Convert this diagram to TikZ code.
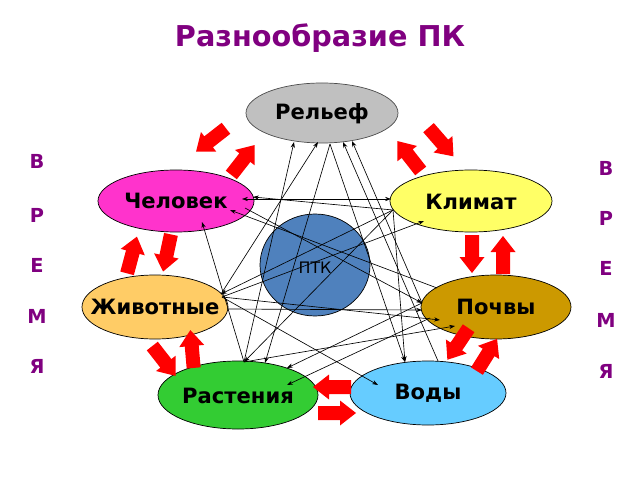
\documentclass[tikz,border=0pt]{standalone}
\usepackage{fontspec}
\setmainfont{DejaVu Sans}
\usetikzlibrary{shapes.geometric,arrows.meta}
\definecolor{ttl}{HTML}{800080}
\definecolor{arrred}{HTML}{FF0000}
\definecolor{crel}{HTML}{C0C0C0}
\definecolor{cchel}{HTML}{FF33CC}
\definecolor{cklim}{HTML}{FFFF66}
\definecolor{cptk}{HTML}{4F81BD}
\definecolor{cziv}{HTML}{FFCC66}
\definecolor{cpoch}{HTML}{CC9900}
\definecolor{crast}{HTML}{33CC33}
\definecolor{cvod}{HTML}{66CCFF}
\begin{document}
\begin{tikzpicture}[x=0.03cm,y=-0.03cm,
  comp/.style={ellipse,draw=black,line width=0.6pt,inner sep=0pt},
  lbl/.style={font=\fontsize{18}{21}\selectfont\bfseries},
  link/.style={line width=0.55pt,-{Stealth[length=5pt,width=3.6pt]}},
  letter/.style={text=ttl,font=\fontsize{16.5}{19}\selectfont\bfseries},
  blockarr/.pic={\fill[arrred] (-19,-7)--(3,-7)--(3,-12.5)--(19,0)--(3,12.5)--(3,7)--(-19,7)--cycle;}
]
\useasboundingbox (0,0) rectangle (640,480);
\fill[white] (0,0) rectangle (640,480);

% title
\node[text=ttl,font=\fontsize{24.5}{28}\selectfont\bfseries] (title) at (320,38) {Разнообразие ПК};

% side letters
\node[letter] (l1) at (37,161) {В};
\node[letter] (l2) at (37,215) {Р};
\node[letter] (l3) at (37,265) {Е};
\node[letter] (l4) at (37,316) {М};
\node[letter] (l5) at (37,366) {Я};
\node[letter] (r1) at (606,168) {В};
\node[letter] (r2) at (606,218) {Р};
\node[letter] (r3) at (606,268) {Е};
\node[letter] (r4) at (606,320) {М};
\node[letter] (r5) at (606,371) {Я};

% components
\node[comp,fill=crel,draw=black!70,minimum width=4.56cm,minimum height=1.8cm,
  label={[lbl,yshift=-1pt]center:Рельеф}] (rel) at (322,113) {};
\node[comp,fill=cchel,minimum width=4.68cm,minimum height=1.86cm,
  label={[lbl]center:Человек}] (chel) at (176,201) {};
\node[comp,fill=cklim,minimum width=4.86cm,minimum height=1.86cm,
  label={[lbl,yshift=-1pt]center:Климат}] (klim) at (471,201) {};
\node[comp,fill=cptk,minimum width=3.3cm,minimum height=3.06cm,
  label={[font=\fontsize{13.5}{15}\selectfont,yshift=-2pt]center:ПТК}] (ptk) at (315,265) {};
\node[comp,fill=cziv,minimum width=4.38cm,minimum height=1.92cm,
  label={[lbl]center:Животные}] (ziv) at (155,307) {};
\node[comp,fill=cpoch,minimum width=4.5cm,minimum height=1.92cm,
  label={[lbl]center:Почвы}] (poch) at (496,307) {};
\node[comp,fill=crast,minimum width=4.8cm,minimum height=2.04cm,
  label={[lbl,yshift=-1pt]center:Растения}] (rast) at (238,395) {};
\node[comp,fill=cvod,minimum width=4.68cm,minimum height=1.92cm,
  label={[lbl]center:Воды}] (vod) at (428,393) {};

% red block arrows
\pic[rotate=218] at (211,140) {blockarr};
\pic[rotate=52] at (243,160) {blockarr};
\pic[rotate=128] at (409,156) {blockarr};
\pic[rotate=-49] at (441,142) {blockarr};
\pic[rotate=-90] at (472,254) {blockarr};
\pic[rotate=90] at (503,255) {blockarr};
\pic[rotate=236] at (458,344) {blockarr};
\pic[rotate=58] at (487,355) {blockarr};
\pic[rotate=180] at (332,387) {blockarr};
\pic[rotate=0] at (337,413) {blockarr};
\pic[rotate=-52] at (164,361) {blockarr};
\pic[rotate=95] at (192,349) {blockarr};
\pic[rotate=75] at (132,255) {blockarr};
\pic[rotate=-102] at (167,253) {blockarr};

% thin links
\draw[link,{Stealth[length=5pt,width=3.6pt]}-{Stealth[length=5pt,width=3.6pt]}]
  ([shift={(-80,-2)}]klim.center) -- ([shift={(66,-2)}]chel.center);
\draw[link] ([shift={(-78,9)}]klim.center) -- ([shift={(77,-4)}]chel.center);
\draw[link] ([shift={(-59,-19)}]poch.center) -- ([shift={(54,9)}]chel.center);
\draw[link] ([shift={(69,7)}]chel.center) -- ([shift={(-74,-4)}]poch.center);
\draw[link] ([shift={(6,-33)}]rast.center) -- ([shift={(26,21)}]chel.center);
\draw[link] ([shift={(6,-33)}]rast.center) -- ([shift={(-28,29)}]rel.center);
\draw[link] ([shift={(66,-13)}]ziv.center) -- ([shift={(-4,29)}]rel.center);
\draw[link] ([shift={(8,31)}]rel.center) -- ([shift={(27,-32)}]rast.center);
\draw[link] ([shift={(8,31)}]rel.center) -- ([shift={(-23,-31)}]vod.center);
\draw[link] ([shift={(10,-32)}]vod.center) -- ([shift={(21,29)}]rel.center);
\draw[link] ([shift={(-74,-4)}]poch.center) -- ([shift={(30,28)}]rel.center);
\draw[link] ([shift={(-78,9)}]klim.center) -- ([shift={(66,-13)}]ziv.center);
\draw[link] ([shift={(67,-10)}]ziv.center) -- ([shift={(-47,20)}]klim.center);
\draw[link] ([shift={(-78,9)}]klim.center) -- ([shift={(6,-33)}]rast.center);
\draw[link] ([shift={(-78,9)}]klim.center) -- ([shift={(-23,-31)}]vod.center);
\draw[link] ([shift={(72,2)}]ziv.center) -- ([shift={(-74,3)}]poch.center);
\draw[link] ([shift={(67,-10)}]ziv.center) -- ([shift={(-56,13)}]poch.center);
\draw[link] ([shift={(67,-10)}]ziv.center) -- ([shift={(-50,-8)}]vod.center);
\draw[link] ([shift={(-66,11)}]poch.center) -- ([shift={(49,-10)}]rast.center);
\draw[link] ([shift={(6,-33)}]rast.center) -- ([shift={(-41,19)}]poch.center);
\draw[link] ([shift={(-74,-4)}]poch.center) -- ([shift={(49,-27)}]rast.center);
\end{tikzpicture}
\end{document}
